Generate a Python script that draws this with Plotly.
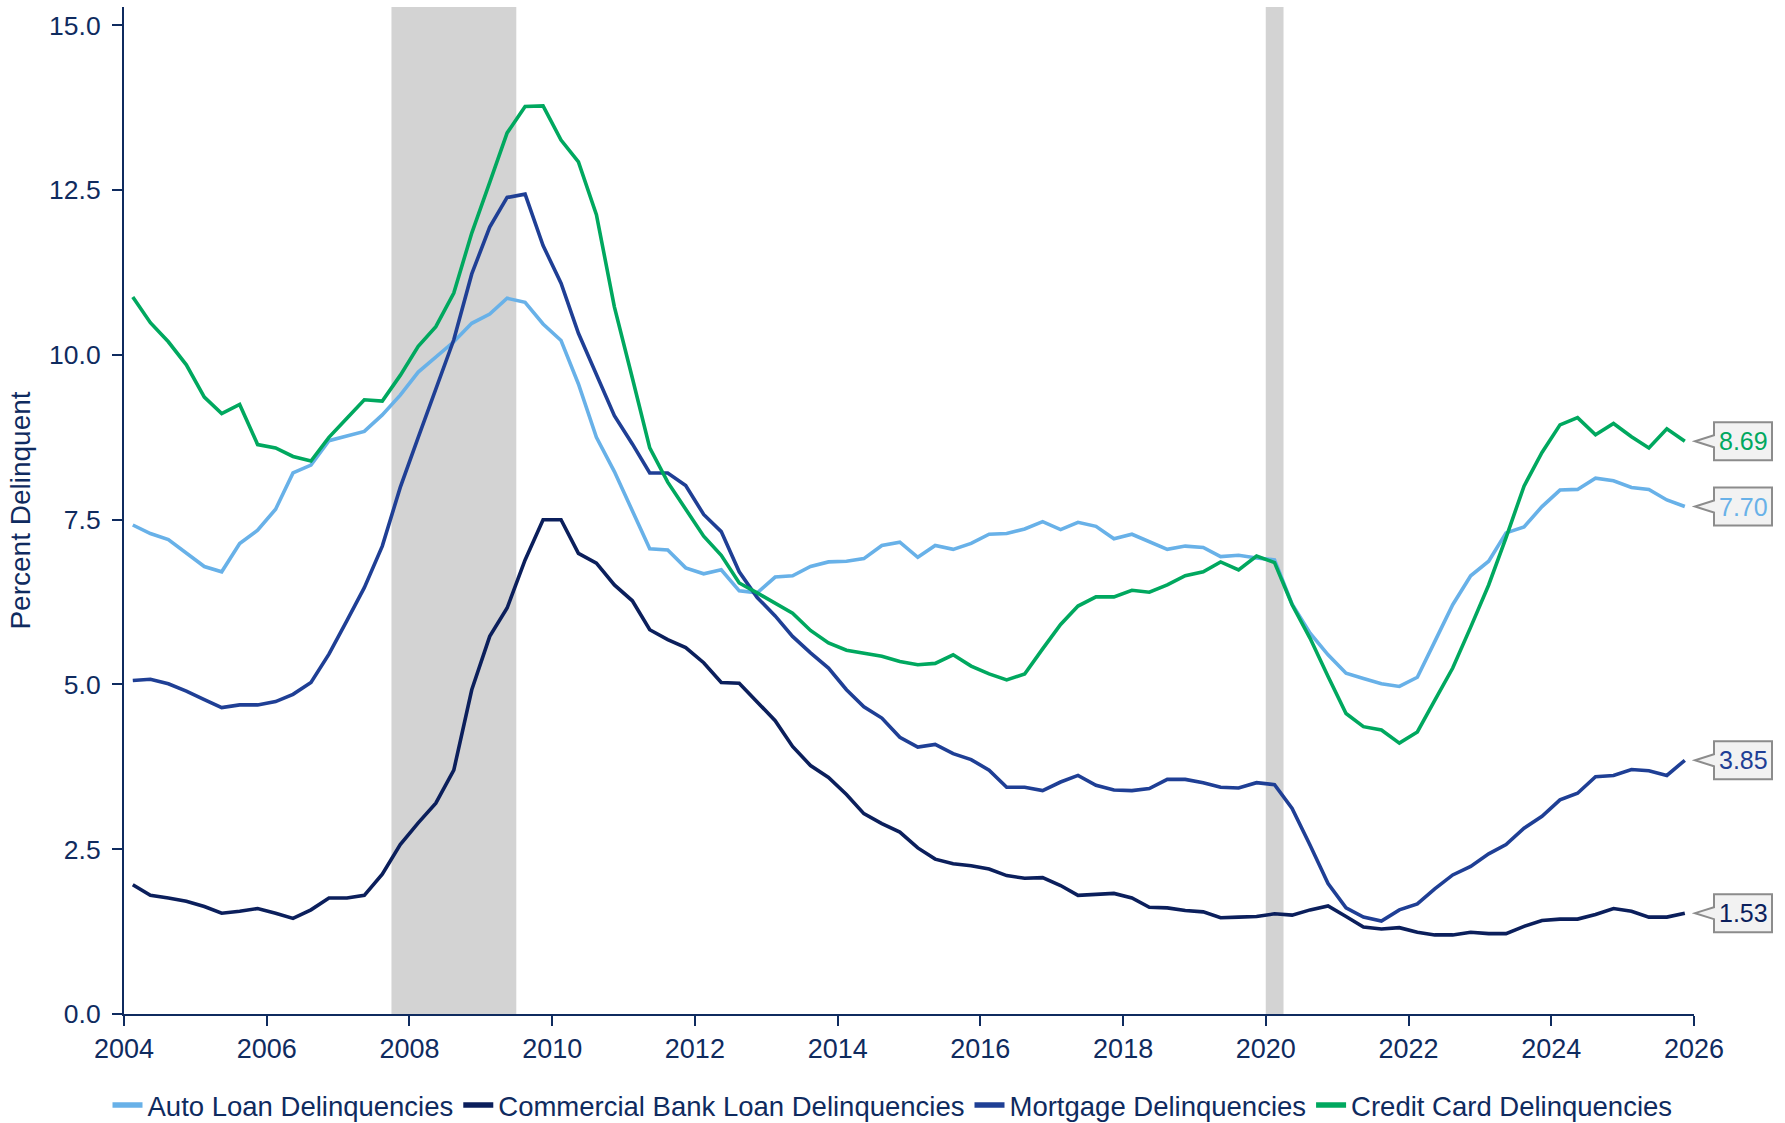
import plotly.graph_objects as go

# ---------------- data (quarterly, 2004 Q1 .. 2025 Q4) ----------------
quarters = [f"{2004 + k // 4}-{2 + 3 * (k % 4):02d}-15" for k in range(88)]

auto_loan = [
    7.42, 7.29, 7.20, 6.99, 6.79, 6.71, 7.14, 7.34, 7.66, 8.21, 8.33, 8.70,
    8.77, 8.84, 9.09, 9.39, 9.74, 9.96, 10.20, 10.48, 10.62, 10.86, 10.80, 10.47,
    10.22, 9.56, 8.75, 8.23, 7.64, 7.06, 7.04, 6.77, 6.68, 6.74, 6.42, 6.39,
    6.63, 6.65, 6.79, 6.86, 6.87, 6.91, 7.11, 7.16, 6.93, 7.11, 7.05, 7.14,
    7.28, 7.29, 7.36, 7.47, 7.35, 7.46, 7.40, 7.21, 7.28, 7.16, 7.05, 7.10,
    7.08, 6.94, 6.96, 6.92, 6.89, 6.22, 5.78, 5.45, 5.17, 5.09, 5.01, 4.97,
    5.11, 5.65, 6.21, 6.65, 6.87, 7.30, 7.39, 7.70, 7.95, 7.96, 8.13, 8.09,
    7.99, 7.96, 7.80, 7.70,
]

commercial = [
    1.96, 1.80, 1.76, 1.71, 1.63, 1.53, 1.56, 1.60, 1.53, 1.45, 1.58, 1.76,
    1.76, 1.80, 2.12, 2.57, 2.90, 3.20, 3.70, 4.92, 5.73, 6.16, 6.89, 7.50,
    7.50, 6.99, 6.84, 6.51, 6.27, 5.83, 5.68, 5.56, 5.33, 5.03, 5.02, 4.73,
    4.45, 4.06, 3.77, 3.59, 3.33, 3.04, 2.89, 2.76, 2.52, 2.35, 2.28, 2.25,
    2.20, 2.10, 2.06, 2.07, 1.95, 1.80, 1.82, 1.83, 1.76, 1.62, 1.61, 1.57,
    1.55, 1.46, 1.47, 1.48, 1.52, 1.50, 1.58, 1.64, 1.48, 1.32, 1.29, 1.31,
    1.24, 1.20, 1.20, 1.24, 1.22, 1.22, 1.33, 1.42, 1.44, 1.44, 1.51, 1.60,
    1.56, 1.47, 1.47, 1.53,
]

mortgage = [
    5.06, 5.08, 5.01, 4.90, 4.77, 4.65, 4.69, 4.69, 4.74, 4.85, 5.03, 5.46,
    5.97, 6.47, 7.10, 7.99, 8.75, 9.49, 10.23, 11.23, 11.94, 12.39, 12.44, 11.66,
    11.09, 10.33, 9.71, 9.08, 8.65, 8.21, 8.21, 8.02, 7.58, 7.32, 6.71, 6.32,
    6.04, 5.73, 5.48, 5.25, 4.92, 4.66, 4.49, 4.20, 4.05, 4.09, 3.95, 3.86,
    3.70, 3.44, 3.44, 3.39, 3.52, 3.62, 3.47, 3.40, 3.39, 3.42, 3.56, 3.56,
    3.51, 3.44, 3.43, 3.51, 3.48, 3.12, 2.56, 1.98, 1.61, 1.47, 1.41, 1.58,
    1.67, 1.90, 2.11, 2.24, 2.43, 2.57, 2.82, 3.00, 3.25, 3.35, 3.60, 3.62,
    3.71, 3.69, 3.62, 3.85,
]

credit_card = [
    10.88, 10.49, 10.20, 9.85, 9.36, 9.11, 9.25, 8.64, 8.59, 8.46, 8.39, 8.75,
    9.04, 9.32, 9.30, 9.69, 10.13, 10.43, 10.94, 11.85, 12.62, 13.37, 13.77, 13.78,
    13.26, 12.93, 12.13, 10.73, 9.65, 8.59, 8.07, 7.66, 7.25, 6.96, 6.54, 6.39,
    6.24, 6.08, 5.82, 5.63, 5.52, 5.48, 5.43, 5.35, 5.30, 5.32, 5.45, 5.28,
    5.16, 5.07, 5.16, 5.54, 5.91, 6.19, 6.33, 6.33, 6.43, 6.40, 6.51, 6.65,
    6.71, 6.86, 6.74, 6.95, 6.85, 6.21, 5.70, 5.12, 4.56, 4.36, 4.31, 4.11,
    4.28, 4.76, 5.25, 5.87, 6.51, 7.23, 8.01, 8.52, 8.94, 9.05, 8.79, 8.96,
    8.76, 8.59, 8.88, 8.69,
]

recessions = [("2007-10-01", "2009-07-01"), ("2020-01-01", "2020-04-01")]

series_names = [
    "Auto Loan Delinquencies",
    "Commercial Bank Loan Delinquencies",
    "Mortgage Delinquencies",
    "Credit Card Delinquencies",
]
series_values = [auto_loan, commercial, mortgage, credit_card]

# ---------------- styles ----------------
colors = ["#68b1e8", "#0b1f5c", "#1f3f95", "#00a85f"]
NAVY = "#0f2b5f"
FONT = "Liberation Sans, Arial, sans-serif"

W, H = 1785, 1123
ML, MR, MT, MB = 124, 91, 7, 109
PW, PH = W - ML - MR, H - MT - MB
YMAX = 15.28

fig = go.Figure()
for name, vals, col in zip(series_names, series_values, colors):
    fig.add_trace(go.Scatter(
        x=quarters, y=vals, name=name, mode="lines",
        line=dict(color=col, width=3.6), showlegend=False,
    ))
# legend entries (thicker symbols, as in the original)
for name, col in zip(series_names, colors):
    fig.add_trace(go.Scatter(
        x=[None], y=[None], name=name, mode="lines",
        line=dict(color=col, width=5.5), showlegend=True,
    ))

shapes = []
for x0, x1 in recessions:
    shapes.append(dict(type="rect", xref="x", yref="paper", x0=x0, x1=x1,
                       y0=0, y1=1, fillcolor="#d3d3d3", line=dict(width=0),
                       layer="below"))

# end-value callouts
annotations = []
tip = 1 + 1 / PW
bl = 1 + 20 / PW
br = 1 + 78 / PW
hh = 19 / PH
pb = 6 / PH
for vals, col in zip(series_values, colors):
    v = vals[-1]
    yc = v / YMAX
    path = (f"M {bl},{yc + hh} L {br},{yc + hh} L {br},{yc - hh} L {bl},{yc - hh} "
            f"L {bl},{yc - pb} L {tip},{yc} L {bl},{yc + pb} Z")
    shapes.append(dict(type="path", xref="paper", yref="paper", path=path,
                       fillcolor="#f2f2f2", line=dict(color="#8c8c8c", width=2),
                       layer="above"))
    annotations.append(dict(xref="paper", yref="paper", x=(bl + br) / 2, y=yc,
                            text=f"{v:.2f}", showarrow=False, xanchor="center",
                            yanchor="middle",
                            font=dict(family=FONT, size=25, color=col)))

fig.update_layout(
    width=W, height=H,
    margin=dict(l=ML, r=MR, t=MT, b=MB, pad=0, autoexpand=False),
    paper_bgcolor="white", plot_bgcolor="white",
    font=dict(family=FONT, color=NAVY, size=26),
    showlegend=True,
    legend=dict(orientation="h", xref="container", yref="container",
                x=0.5, xanchor="center", y=0.016, yanchor="middle",
                font=dict(family=FONT, size=27.5, color=NAVY),
                bgcolor="rgba(0,0,0,0)", itemwidth=30),
    shapes=shapes,
    annotations=annotations,
)

fig.update_xaxes(
    type="date", range=["2004-01-01", "2026-01-01"],
    tick0="2004-01-01", dtick="M24", tickformat="%Y",
    ticks="outside", ticklen=10, tickwidth=2, tickcolor=NAVY,
    showline=True, linecolor=NAVY, linewidth=2, showgrid=False, zeroline=False,
    tickfont=dict(family=FONT, size=27, color=NAVY),
)
fig.update_yaxes(
    range=[0, YMAX], tick0=0, dtick=2.5, tickformat=".1f",
    ticks="outside", ticklen=10, tickwidth=2, tickcolor=NAVY,
    ticklabelstandoff=6,
    showline=True, linecolor=NAVY, linewidth=2, showgrid=False, zeroline=False,
    tickfont=dict(family=FONT, size=26.5, color=NAVY),
    title=dict(text="Percent Delinquent", standoff=10,
               font=dict(family=FONT, size=28, color=NAVY)),
)

fig.write_html(
    "out.html",
    config={"displayModeBar": False},
    post_script="document.body.style.margin='0';document.body.style.overflow='hidden';",
)
